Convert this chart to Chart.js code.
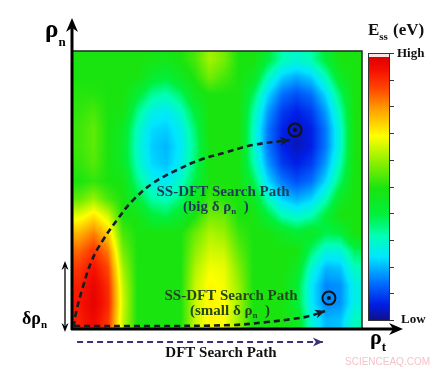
<!DOCTYPE html>
<html>
<head>
<meta charset="utf-8">
<script src="https://cdn.jsdelivr.net/npm/chart.js@4.4.1/dist/chart.umd.min.js"></script>
<style>
  html, body { margin: 0; padding: 0; background: #fff; }
  canvas { display: block; }
</style>
</head>
<body>
<canvas id="surface" width="443" height="370"></canvas>
<script>
// E_ss on a 20 x 16 grid (0 = low, 1 = high), first row is the top of the map
var energy = [
  [0.50,0.50,0.50,0.50,0.50,0.49,0.48,0.50,0.54,0.62,0.58,0.50,0.50,0.41,0.32,0.29,0.32,0.41,0.50,0.50],
  [0.50,0.50,0.50,0.50,0.50,0.43,0.41,0.46,0.51,0.58,0.54,0.50,0.46,0.31,0.22,0.19,0.22,0.31,0.45,0.50],
  [0.51,0.51,0.50,0.50,0.42,0.34,0.32,0.37,0.47,0.50,0.50,0.50,0.38,0.23,0.14,0.11,0.14,0.23,0.37,0.50],
  [0.52,0.54,0.50,0.49,0.35,0.27,0.25,0.30,0.41,0.50,0.50,0.50,0.33,0.18,0.09,0.06,0.09,0.18,0.32,0.50],
  [0.53,0.56,0.50,0.45,0.31,0.23,0.22,0.26,0.37,0.50,0.50,0.50,0.31,0.15,0.065,0.03,0.06,0.15,0.29,0.50],
  [0.53,0.56,0.50,0.44,0.30,0.22,0.20,0.25,0.35,0.50,0.50,0.50,0.31,0.15,0.065,0.03,0.06,0.15,0.29,0.50],
  [0.52,0.55,0.50,0.45,0.31,0.23,0.21,0.26,0.37,0.50,0.50,0.50,0.33,0.18,0.09,0.06,0.09,0.18,0.32,0.50],
  [0.50,0.52,0.50,0.49,0.35,0.27,0.25,0.30,0.40,0.50,0.50,0.50,0.39,0.23,0.15,0.11,0.14,0.23,0.37,0.50],
  [0.56,0.61,0.54,0.50,0.41,0.33,0.31,0.36,0.46,0.53,0.51,0.50,0.46,0.31,0.22,0.19,0.22,0.31,0.45,0.50],
  [0.68,0.73,0.66,0.50,0.49,0.41,0.39,0.44,0.50,0.58,0.57,0.50,0.50,0.41,0.32,0.29,0.32,0.41,0.50,0.50],
  [0.78,0.83,0.75,0.54,0.50,0.50,0.50,0.50,0.57,0.63,0.61,0.53,0.50,0.50,0.46,0.42,0.45,0.39,0.40,0.50],
  [0.85,0.90,0.83,0.58,0.50,0.50,0.50,0.50,0.60,0.66,0.65,0.56,0.50,0.50,0.50,0.50,0.37,0.28,0.28,0.38],
  [0.90,0.95,0.88,0.62,0.50,0.50,0.50,0.50,0.63,0.69,0.68,0.59,0.50,0.50,0.50,0.46,0.29,0.20,0.21,0.31],
  [0.93,0.98,0.91,0.65,0.50,0.50,0.50,0.50,0.65,0.71,0.69,0.61,0.50,0.50,0.50,0.42,0.25,0.16,0.17,0.27],
  [0.94,0.99,0.92,0.66,0.50,0.50,0.50,0.50,0.65,0.71,0.70,0.62,0.50,0.50,0.50,0.42,0.25,0.16,0.17,0.27],
  [0.93,0.97,0.90,0.65,0.50,0.50,0.50,0.50,0.65,0.71,0.70,0.61,0.50,0.50,0.50,0.46,0.29,0.20,0.21,0.31]
];

// search paths, in grid units (x = rho_t, y = rho_n)
var bigPathX = [0.14, 0.21, 0.69, 1.38, 2.14, 3.10, 4.21, 5.59, 7.24, 8.83, 10.69, 12.48, 15.03];
var bigPathY = [0.12, 0.69, 2.24, 3.97, 5.12, 6.27, 7.42, 8.40, 9.15, 9.73, 10.19, 10.59, 10.88];
var smallPathX = [0.14, 5.38, 11.10, 13.45, 15.24, 16.41, 17.45];
var smallPathY = [0.17, 0.17, 0.23, 0.40, 0.58, 0.75, 1.04];
var dftPathX = [0.35, 17.3];
var dftPathY = [-0.75, -0.75];
var minimaX = [15.38, 17.72];
var minimaY = [11.45, 1.78];

// colour scale
var cmapStops = [0.0, 0.06, 0.14, 0.24, 0.32, 0.40, 0.50, 0.60, 0.70, 0.80, 0.88, 0.95, 1.0];
var cmapColors = [
  [16,16,140], [0,30,230], [0,110,255], [0,230,255], [0,255,180], [0,240,60],
  [25,228,15], [140,240,0], [255,255,0], [255,160,0], [255,70,0], [245,15,0], [225,0,0]
];
var colorbarLabels = ['Low', 'High'];
var colorbarTicks = 11;

function colorAt(v) {
  if (v <= cmapStops[0]) return cmapColors[0];
  for (var i = 1; i < cmapStops.length; i++) {
    if (v <= cmapStops[i]) {
      var t = (v - cmapStops[i - 1]) / (cmapStops[i] - cmapStops[i - 1]);
      var a = cmapColors[i - 1], b = cmapColors[i];
      return [a[0] + (b[0] - a[0]) * t, a[1] + (b[1] - a[1]) * t, a[2] + (b[2] - a[2]) * t];
    }
  }
  return cmapColors[cmapColors.length - 1];
}

function pts(xs, ys) {
  return xs.map(function (x, i) { return {x: x, y: ys[i]}; });
}

function arrowHead(ctx, x, y, ang, len, half, color) {
  ctx.save();
  ctx.translate(x, y);
  ctx.rotate(ang);
  ctx.fillStyle = color;
  ctx.beginPath();
  ctx.moveTo(0, 0);
  ctx.lineTo(-len, -half);
  ctx.lineTo(-len * 0.7, 0);
  ctx.lineTo(-len, half);
  ctx.closePath();
  ctx.fill();
  ctx.restore();
}

// text with a subscript, returns the x where it ends
function subText(ctx, x, y, main, sub, mainFont, subFont, dy) {
  ctx.font = mainFont;
  ctx.fillText(main, x, y);
  x += ctx.measureText(main).width;
  ctx.font = subFont;
  ctx.fillText(sub, x, y + dy);
  return x + ctx.measureText(sub).width;
}

var heatmap = {
  id: 'heatmap',
  beforeDatasetsDraw: function (chart) {
    var ctx = chart.ctx, xs = chart.scales.x, ys = chart.scales.y;
    var rows = energy.length, cols = energy[0].length;
    var left = Math.round(xs.getPixelForValue(0)), right = Math.round(xs.getPixelForValue(cols));
    var top = Math.round(ys.getPixelForValue(rows)), bottom = Math.round(ys.getPixelForValue(0));
    var w = right - left, h = bottom - top;
    var off = document.createElement('canvas');
    off.width = w; off.height = h;
    var octx = off.getContext('2d');
    var img = octx.createImageData(w, h);
    for (var py = 0; py < h; py++) {
      var gy = Math.min(Math.max((py + 0.5) / h * rows - 0.5, 0), rows - 1);
      var r0 = Math.floor(gy), r1 = Math.min(r0 + 1, rows - 1), fy = gy - r0;
      for (var px = 0; px < w; px++) {
        var gx = Math.min(Math.max((px + 0.5) / w * cols - 0.5, 0), cols - 1);
        var c0 = Math.floor(gx), c1 = Math.min(c0 + 1, cols - 1), fx = gx - c0;
        var v = (energy[r0][c0] * (1 - fx) + energy[r0][c1] * fx) * (1 - fy) +
                (energy[r1][c0] * (1 - fx) + energy[r1][c1] * fx) * fy;
        var c = colorAt(v), k = (py * w + px) * 4;
        img.data[k] = c[0]; img.data[k + 1] = c[1]; img.data[k + 2] = c[2]; img.data[k + 3] = 255;
      }
    }
    octx.putImageData(img, 0, 0);
    ctx.drawImage(off, left, top);

    // frame and axes
    ctx.save();
    ctx.strokeStyle = '#1d2a1d';
    ctx.lineWidth = 1.5;
    ctx.beginPath();
    ctx.moveTo(left, top); ctx.lineTo(right, top); ctx.lineTo(right, bottom);
    ctx.stroke();
    ctx.strokeStyle = '#000';
    ctx.lineWidth = 3;
    ctx.beginPath();
    ctx.moveTo(left, bottom + 1); ctx.lineTo(left, 28);
    ctx.moveTo(left - 1, bottom); ctx.lineTo(394, bottom);
    ctx.stroke();
    arrowHead(ctx, left, 18, -Math.PI / 2, 14, 6, '#000');
    arrowHead(ctx, 403, bottom, 0, 14, 6, '#000');

    // delta rho_n marker
    ctx.lineWidth = 1.3;
    ctx.beginPath();
    ctx.moveTo(65, 268); ctx.lineTo(65, 325);
    ctx.stroke();
    arrowHead(ctx, 65, 261, -Math.PI / 2, 9, 3.5, '#000');
    arrowHead(ctx, 65, 332, Math.PI / 2, 9, 3.5, '#000');
    ctx.restore();
  },
  afterDatasetsDraw: function (chart) {
    var ctx = chart.ctx;
    var heads = [[0, '#141c26'], [1, '#141c26'], [2, '#3f2f74']];
    heads.forEach(function (hd) {
      var el = chart.getDatasetMeta(hd[0]).data;
      var a = el[el.length - 2], b = el[el.length - 1];
      arrowHead(ctx, b.x, b.y, Math.atan2(b.y - a.y, b.x - a.x), 10, 4.5, hd[1]);
    });
  },
  afterDraw: function (chart) {
    var ctx = chart.ctx;
    ctx.save();
    ctx.textBaseline = 'alphabetic';
    var serifB = 'bold {s}px "Liberation Serif", "DejaVu Serif", serif';
    function f(s) { return serifB.replace('{s}', s); }

    // colour bar
    var cbL = 368, cbR = 390, cbT = 57, cbB = 320;
    var grad = ctx.createLinearGradient(0, cbB, 0, cbT);
    cmapStops.forEach(function (s, i) {
      var c = cmapColors[i];
      grad.addColorStop(s, 'rgb(' + c.join(',') + ')');
    });
    ctx.fillStyle = '#f6e6e6';
    ctx.fillRect(cbL, 53, cbR - cbL, cbT - 53);
    ctx.fillStyle = grad;
    ctx.fillRect(cbL, cbT, cbR - cbL, cbB - cbT);
    ctx.strokeStyle = '#333';
    ctx.lineWidth = 1;
    ctx.strokeRect(cbL + 0.5, 53.5, cbR - cbL - 1, cbB - 53);
    ctx.beginPath();
    for (var i = 0; i < colorbarTicks; i++) {
      var ty = Math.round(53 + (cbB - 53) * i / (colorbarTicks - 1)) + 0.5;
      ctx.moveTo(cbR, ty); ctx.lineTo(cbR + 4, ty);
    }
    ctx.stroke();
    ctx.fillStyle = '#111';
    ctx.font = f(13);
    ctx.fillText(colorbarLabels[1], 397, 57);
    ctx.fillText(colorbarLabels[0], 401, 323);
    subText(ctx, 368, 35, 'E', 'ss', f(17), f(11), 5);
    ctx.font = f(17);
    ctx.fillText('(eV)', 393, 35);

    // axis labels
    ctx.fillStyle = '#000';
    subText(ctx, 45, 37, '\u03c1', 'n', f(25), f(13), 9);
    subText(ctx, 370, 344, '\u03c1', 't', f(22), f(13), 7);
    subText(ctx, 22, 324, '\u03b4\u03c1', 'n', f(18), f(11), 4);

    // path labels
    ctx.fillStyle = '#1f3b58';
    ctx.font = f(15);
    ctx.textAlign = 'center';
    ctx.fillText('SS-DFT Search Path', 223, 196);
    ctx.textAlign = 'left';
    var x = subText(ctx, 183, 211, '(big \u03b4 \u03c1', 'n', f(15), f(9), 3);
    ctx.font = f(15);
    ctx.fillText('  )', x, 211);

    ctx.fillStyle = '#24461f';
    ctx.textAlign = 'center';
    ctx.fillText('SS-DFT Search Path', 231, 300);
    ctx.textAlign = 'left';
    x = subText(ctx, 190, 315, '(small \u03b4 \u03c1', 'n', f(15), f(9), 3);
    ctx.font = f(15);
    ctx.fillText('  )', x, 315);

    ctx.fillStyle = '#111';
    ctx.textAlign = 'center';
    ctx.fillText('DFT Search Path', 221, 357);

    ctx.fillStyle = '#f4c3ca';
    ctx.font = '10px "Liberation Sans", Arial, sans-serif';
    ctx.textAlign = 'left';
    ctx.fillText('SCIENCEAQ.COM', 345, 365);
    ctx.restore();
  }
};

var lineStyle = {
  showLine: true, pointRadius: 0, borderWidth: 2.6, borderDash: [6, 4],
  tension: 0.4, clip: false, fill: false
};

new Chart(document.getElementById('surface'), {
  type: 'scatter',
  data: {
    datasets: [
      Object.assign({data: pts(bigPathX, bigPathY), borderColor: '#141c26'}, lineStyle),
      Object.assign({data: pts(smallPathX, smallPathY), borderColor: '#141c26'}, lineStyle),
      Object.assign({data: pts(dftPathX, dftPathY), borderColor: '#3f2f74'}, lineStyle, {borderWidth: 2, tension: 0}),
      {data: pts(minimaX, minimaY), pointRadius: 6.5, borderWidth: 2, borderColor: '#111',
       backgroundColor: 'rgba(0,0,0,0)', clip: false},
      {data: pts(minimaX, minimaY), pointRadius: 2, borderWidth: 0, backgroundColor: '#111', clip: false}
    ]
  },
  options: {
    responsive: false,
    animation: false,
    devicePixelRatio: 1,
    layout: {padding: {left: 72, right: 81, top: 51, bottom: 41}},
    scales: {
      x: {type: 'linear', min: 0, max: 20, display: false},
      y: {type: 'linear', min: 0, max: 16, display: false}
    },
    plugins: {legend: {display: false}, tooltip: {enabled: false}}
  },
  plugins: [heatmap]
});
</script>
</body>
</html>
